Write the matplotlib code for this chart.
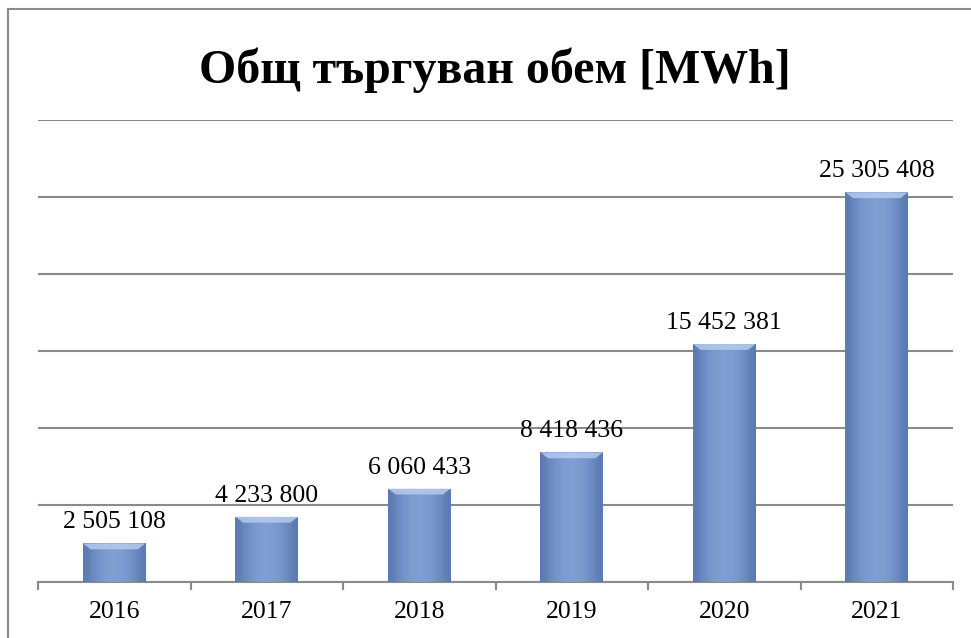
import numpy as np
import matplotlib
matplotlib.use("Agg")
import matplotlib.pyplot as plt
from matplotlib.lines import Line2D
from matplotlib.patches import Polygon

# data
years = ['2016', '2017', '2018', '2019', '2020', '2021']
volumes = [2505108, 4233800, 6060433, 8418436, 15452381, 25305408]
labels = ['2 505 108', '4 233 800', '6 060 433', '8 418 436', '15 452 381', '25 305 408']

plt.rcParams['font.family'] = ['Liberation Serif', 'DejaVu Serif']

fig = plt.figure(figsize=(9.71, 6.38), dpi=100)
ax = fig.add_axes([38/971, 1-582/638, (953-38)/971, (582-120)/638])

x = np.arange(len(years))
bw = 0.41
bars = ax.bar(x, volumes, width=bw, color='#7F9DD2', edgecolor='none', zorder=2)

# horizontal shading + top bevel on each bar
grad = np.array([[0.0, 0.35, 0.6, 0.75, 0.8, 0.75, 0.6, 0.35, 0.0]])
cmap = matplotlib.colors.LinearSegmentedColormap.from_list('b', ['#5C7BB2', '#8BA8DC'])
for b, v in zip(bars, volumes):
    x0 = b.get_x()
    w = b.get_width()
    im = ax.imshow(grad, extent=(x0, x0 + w, 0, v), aspect='auto', cmap=cmap,
                   vmin=0, vmax=1, zorder=3, interpolation='bicubic')
    im.set_clip_path(b)
    bev = 380000
    ax.add_patch(Polygon([(x0, v), (x0 + w, v), (x0 + w - 0.05, v - bev), (x0 + 0.05, v - bev)],
                         closed=True, facecolor='#B4CBEE', edgecolor='none', alpha=0.85, zorder=4))

for xi, v, lab in zip(x, volumes, labels):
    ax.text(xi, v + 650000, lab, ha='center', va='bottom', fontsize=18.5, color='black')

ax.set_xlim(-0.5, len(years) - 0.5)
ax.set_ylim(0, 30000000)
ax.set_yticks(np.arange(0, 30000001, 5000000))
ax.yaxis.grid(True, color='#8A8A8A', linewidth=1.5, zorder=0)
ax.set_axisbelow(True)
ax.tick_params(axis='y', left=False, labelleft=False)

ax.set_xticks(x)
ax.set_xticklabels(years, fontsize=18.5)
ax.set_xticks(np.arange(-0.5, len(years)), minor=True)
ax.tick_params(axis='x', which='major', length=0, pad=14)
ax.tick_params(axis='x', which='minor', length=6, width=1.5, color='#8A8A8A')

for s in ['left', 'right', 'top']:
    ax.spines[s].set_visible(False)
ax.spines['bottom'].set_color('#8A8A8A')
ax.spines['bottom'].set_linewidth(1.5)

fig.text(495/971, 1-70/638, 'Общ търгуван обем [MWh]', ha='center', va='center',
         fontsize=34.5, fontweight='bold')

# outer chart frame
fig.add_artist(Line2D([8/971, 8/971], [0, 1-9/638], transform=fig.transFigure, color='#8C8C8C', linewidth=1.5))
fig.add_artist(Line2D([8/971, 1], [1-9/638, 1-9/638], transform=fig.transFigure, color='#8C8C8C', linewidth=1.5))

fig.savefig('out.png', dpi=100)
